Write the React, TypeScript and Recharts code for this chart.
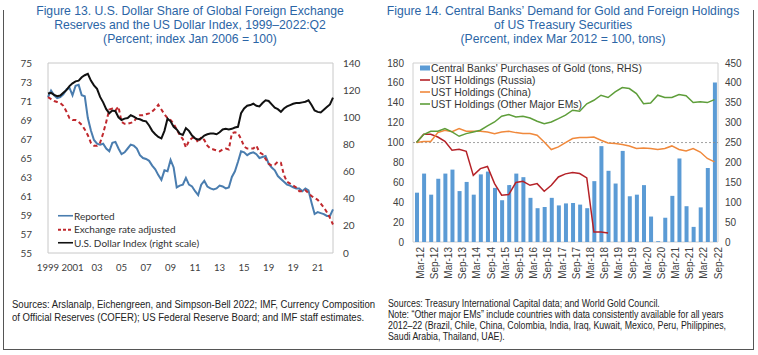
import React from "react";
import {
  Bar,
  ComposedChart,
  Line,
  LineChart,
  ReferenceArea,
  ReferenceLine,
  XAxis,
  YAxis,
} from "recharts";

// ---------- Figure 13 (quarterly, 1999Q1 - 2022Q2) ----------
const firstYear = 1999;
const quarterCount = 94;
const quarters: string[] = [];
for (let i = 0; i < quarterCount; i++) {
  quarters.push(`${firstYear + Math.floor(i / 4)}Q${(i % 4) + 1}`);
}

const reported = [
  71.4, 72.1, 71.6, 71.3, 71.4, 71.7, 72.2, 72.4,
  71.6, 72.6, 72.7, 71.6, 71.5, 69.2, 67.9, 66.9,
  66.5, 66.4, 66.5, 66.0, 65.7, 66.6, 66.7, 66.0,
  65.4, 65.6, 66.0, 66.4, 66.3, 66.0, 65.3, 65.0,
  64.9, 64.7, 64.2, 63.8, 63.2, 62.7, 63.7, 63.6,
  64.8, 64.0, 61.9, 62.1, 62.2, 62.9, 62.2, 62.0,
  61.5, 61.1, 62.2, 62.6, 62.0, 61.8, 61.7, 61.8,
  62.1, 62.0, 61.8, 61.9, 63.0, 63.6, 64.6, 65.7,
  65.6, 65.3, 65.5, 65.6, 65.4, 65.0, 65.1, 65.2,
  64.4, 64.0, 63.7, 63.1, 62.8, 62.5, 62.2, 62.1,
  61.9, 61.8, 61.8, 61.5, 61.8, 61.6, 60.3, 59.1,
  59.3, 59.2, 59.1, 58.9, 58.9, 59.6,
];

const fxAdjusted = [
  71.4, 71.2, 71.0, 70.9, 70.8, 70.5, 69.9, 69.2,
  69.0, 69.0, 68.8, 68.5, 68.0, 67.4, 66.6, 66.3,
  66.3, 66.6, 67.6, 68.8, 70.1, 70.2, 70.0, 70.4,
  68.8, 68.6, 68.6, 68.7, 68.8, 69.3, 69.5, 69.5,
  69.6, 69.7, 69.9, 70.2, 70.6, 70.1, 69.6, 69.2,
  69.0, 68.6, 68.0, 67.4, 67.0, 66.1, 66.8, 67.1,
  67.2, 66.6, 67.2, 66.9, 66.3, 66.0, 65.9, 65.8,
  65.7, 65.9, 66.0, 65.9, 67.6, 67.7, 67.6, 67.0,
  66.2, 66.0, 66.0, 66.0, 66.3, 65.6, 65.4, 64.9,
  64.4, 64.2, 64.3, 64.6, 64.5, 63.2, 62.5, 62.3,
  62.1, 61.9, 61.5, 61.5, 61.6, 61.3, 61.0, 60.8,
  60.6, 60.2, 59.8, 59.3, 58.7, 58.0,
];

const dollarIndex = [
  117.5, 118, 116.5, 115.5, 116, 118, 120, 123,
  125, 126.5, 127, 129.5, 131, 132, 127, 123.5,
  121, 115, 111, 106, 103, 105, 104.5, 100,
  98, 99, 99.5, 101.5, 100.5, 99, 98.5, 97.5,
  97, 94, 90, 87.5, 85.5, 84.5, 90, 99,
  97, 93, 91, 88, 87, 92, 90, 86.5,
  84.5, 83.5, 84.5, 86.5, 87.5, 88, 88, 87.5,
  89, 91, 91.5, 91, 91.5, 92.5, 93, 103,
  106.5, 108.5, 109, 110, 108.5, 108, 110.5, 112.5,
  112, 109.5, 107, 106, 104, 106.5, 108, 109,
  110, 110.5, 110.5, 111, 111.5, 112.5, 109, 105,
  104, 103.5, 105.5, 107.5, 109.5, 114.5,
];

// one label every two years (the original prints "19" twice)
const leftTickLabels = ["1999", "2001", "03", "05", "07", "09", "11", "13", "15", "19", "19", "21"];
const leftTicks = leftTickLabels.map((_, i) => quarters[i * 8]);
const leftTickText: Record<string, string> = {};
leftTicks.forEach((q, i) => (leftTickText[q] = leftTickLabels[i]));

const shareTicks = [55, 57, 59, 61, 63, 65, 67, 69, 71, 73, 75];
const indexTicks = [0, 20, 40, 60, 80, 100, 120, 140];

const fig13Data = quarters.map((q, i) => ({
  q,
  reported: reported[i],
  adjusted: fxAdjusted[i],
  dxy: dollarIndex[i],
}));

// ---------- Figure 14 (quarterly, Mar-12 - Sep-22) ----------
const periods = [
  "Mar-12", "Jun-12", "Sep-12", "Dec-12", "Mar-13", "Jun-13", "Sep-13", "Dec-13",
  "Mar-14", "Jun-14", "Sep-14", "Dec-14", "Mar-15", "Jun-15", "Sep-15", "Dec-15",
  "Mar-16", "Jun-16", "Sep-16", "Dec-16", "Mar-17", "Jun-17", "Sep-17", "Dec-17",
  "Mar-18", "Jun-18", "Sep-18", "Dec-18", "Mar-19", "Jun-19", "Sep-19", "Dec-19",
  "Mar-20", "Jun-20", "Sep-20", "Dec-20", "Mar-21", "Jun-21", "Sep-21", "Dec-21",
  "Mar-22", "Jun-22", "Sep-22",
];

const goldTons = [
  124, 172, 119, 159, 172, 182, 128, 151, 119, 170,
  177, 136, 105, 143, 172, 163, 111, 85, 88, 111,
  92, 97, 98, 94, 85, 153, 241, 179, 147, 229,
  115, 119, 143, 64, 2, 61, 116, 210, 90, 38,
  87, 186, 401,
];

const ustRussia: (number | null)[] = [
  100, 108.3, 108.3, 105.6, 101.3, 92.2, 93.2, 91.2, 67, 73.8,
  76, 58.7, 47, 47.7, 59.8, 61, 57, 58.7, 51, 57,
  65.4, 68.5, 69.8, 68.8, 64.4, 10, 10, 9, null, null,
  null, null, null, null, null, null, null, null, null, null,
  null, null, null,
];

const ustChina = [
  100, 101, 101, 110, 112.4, 111, 114, 111.4, 111.4, 111.4,
  110.7, 109, 110.7, 111.4, 110, 109, 109, 107.3, 100.6, 93,
  95.6, 100, 104, 105, 105, 105.6, 102.3, 99.6, 99, 98,
  96.6, 94, 94.6, 94, 93, 94, 96.6, 93, 91.5, 94,
  90.5, 84, 80.5,
];

const ustOtherEMs = [
  100, 108, 111.4, 111.4, 114, 110.7, 106.3, 109, 110.7, 112.4,
  116.7, 120.7, 126.5, 128.2, 125.8, 126.5, 124.7, 121.4, 119, 120.7,
  124, 127.5, 132.5, 131.5, 139, 142.5, 147.6, 145.3, 151, 155.3,
  154.3, 149.3, 139, 139.8, 147.6, 145.3, 145.3, 148.3, 147, 140.2,
  141, 140.2, 143.2,
];

const holdingsTicks = [0, 20, 40, 60, 80, 100, 120, 140, 160, 180];
const tonsTicks = [0, 50, 100, 150, 200, 250, 300, 350, 400, 450];

const fig14Data = periods.map((q, i) => ({
  q,
  gold: goldTons[i],
  russia: ustRussia[i],
  china: ustChina[i],
  others: ustOtherEMs[i],
}));

// ---------- styling ----------
const BLUE_TITLE = "#2B65A6";
const ARIAL = "'Liberation Sans', Arial, sans-serif";
const CALIBRI = "Lato, 'Open Sans', sans-serif";

type KeyItem = { label: string; color: string; kind: "line" | "dash" | "box" };

function KeyList({
  items, left, top, row, font, size, swatch,
}: {
  items: KeyItem[]; left: number; top: number; row: number; font: string; size: number; swatch: number;
}) {
  return (
    <div style={{ position: "absolute", left, top, fontFamily: font, fontSize: size, color: "#333" }}>
      {items.map((it) => (
        <div key={it.label} style={{ display: "flex", alignItems: "center", height: row, whiteSpace: "nowrap" }}>
          <svg width={swatch + 1} height={row} style={{ display: "block" }}>
            {it.kind === "box" ? (
              <rect x={0} y={row / 2 - 2.5} width={swatch} height={5} fill={it.color} />
            ) : (
              <line
                x1={0}
                x2={swatch}
                y1={row / 2}
                y2={row / 2}
                stroke={it.color}
                strokeWidth={it.kind === "dash" ? 1.8 : 1.6}
                strokeDasharray={it.kind === "dash" ? "3 2" : undefined}
              />
            )}
          </svg>
          <span>{it.label}</span>
        </div>
      ))}
    </div>
  );
}

const titleStyle: React.CSSProperties = {
  position: "absolute",
  top: 4,
  width: 380,
  textAlign: "center",
  fontFamily: ARIAL,
  fontSize: 12.2,
  lineHeight: "14px",
  color: BLUE_TITLE,
  whiteSpace: "nowrap",
};

const noteStyle: React.CSSProperties = {
  position: "absolute",
  top: 298,
  fontFamily: ARIAL,
  fontSize: 10,
  color: "#222",
  whiteSpace: "nowrap",
  transformOrigin: "0 0",
};

export default function App() {
  const leftTick = { fontSize: 10, fill: "#404040", fontFamily: CALIBRI };
  const bottomTick = { fontSize: 9.6, fill: "#404040", fontFamily: CALIBRI };
  const rightTick = { fontSize: 10, fill: "#404040", fontFamily: ARIAL };
  return (
    <div style={{ position: "absolute", left: 0, top: 0, width: 758, height: 355, background: "#fff", overflow: "hidden" }}>
      {/* outer box */}
      <div
        style={{
          position: "absolute", left: 3, top: 10, width: 749, height: 339,
          borderLeft: "1.5px solid #555", borderRight: "1.5px solid #555", borderBottom: "1.5px solid #555",
        }}
      />

      <div style={{ ...titleStyle, left: 0 }}>
        Figure 13. U.S. Dollar Share of Global Foreign Exchange<br />
        Reserves and the US Dollar Index, 1999–2022:Q2<br />
        (Percent; index Jan 2006 = 100)
      </div>
      <div style={{ ...titleStyle, left: 374, width: 378 }}>
        Figure 14. Central Banks’ Demand for Gold and Foreign Holdings<br />
        of US Treasury Securities<br />
        (Percent, index Mar 2012 = 100, tons)
      </div>

      <div style={{ position: "absolute", left: 0, top: 0 }}>
        <LineChart width={380} height={290} data={fig13Data} margin={{ top: 63, right: 7, bottom: 17, left: 8 }}>
          <XAxis
            dataKey="q"
            ticks={leftTicks}
            interval={0}
            tickFormatter={(v) => leftTickText[v] ?? ""}
            tickLine={false}
            axisLine={false}
            tickSize={0}
            tickMargin={11}
            height={20}
            tick={bottomTick}
          />
          <YAxis
            yAxisId="share"
            domain={[55, 75]}
            ticks={shareTicks}
            interval={0}
            width={40}
            tickLine={false}
            axisLine={false}
            tickSize={0}
            tickMargin={16}
            tick={leftTick}
          />
          <YAxis
            yAxisId="index"
            orientation="right"
            domain={[0, 140]}
            ticks={indexTicks}
            interval={0}
            width={40}
            tickLine={false}
            axisLine={false}
            tickSize={0}
            tickMargin={10}
            tick={leftTick}
          />
          <ReferenceArea yAxisId="share" y1={55} y2={75} fill="none" stroke="#c8c8c8" strokeWidth={1} />
          <Line yAxisId="share" dataKey="reported" stroke="#4A7DAF" strokeWidth={2} dot={false} isAnimationActive={false} />
          <Line
            yAxisId="share"
            dataKey="adjusted"
            stroke="#C0282D"
            strokeWidth={2}
            strokeDasharray="4 3"
            dot={false}
            isAnimationActive={false}
          />
          <Line yAxisId="index" dataKey="dxy" stroke="#111" strokeWidth={2} dot={false} isAnimationActive={false} />
        </LineChart>
      </div>

      <KeyList
        left={58}
        top={209}
        row={13.5}
        font={CALIBRI}
        size={10}
        swatch={15}
        items={[
          { label: "Reported", color: "#4A7DAF", kind: "line" },
          { label: "Exchange rate adjusted", color: "#C0282D", kind: "dash" },
          { label: "U.S. Dollar Index (right scale)", color: "#111", kind: "line" },
        ]}
      />

      <div style={{ position: "absolute", left: 380, top: 0 }}>
        <ComposedChart width={378} height={290} data={fig14Data} margin={{ top: 63, right: 10, bottom: 6, left: 3 }}>
          <XAxis
            dataKey="q"
            interval={1}
            angle={-90}
            textAnchor="end"
            tickLine={false}
            axisLine={false}
            tickSize={0}
            tickMargin={5}
            height={42}
            tick={{ ...rightTick, verticalAnchor: "middle" }}
          />
          <YAxis
            yAxisId="pct"
            domain={[0, 180]}
            ticks={holdingsTicks}
            interval={0}
            width={30}
            tickLine={false}
            axisLine={false}
            tickSize={0}
            tickMargin={9}
            tick={rightTick}
          />
          <YAxis
            yAxisId="tons"
            orientation="right"
            domain={[0, 450]}
            ticks={tonsTicks}
            interval={0}
            width={30}
            tickLine={false}
            axisLine={false}
            tickSize={0}
            tickMargin={7}
            tick={rightTick}
          />
          <ReferenceArea yAxisId="pct" y1={0} y2={180} fill="none" stroke="#d0d0d0" strokeWidth={1} />
          <Bar yAxisId="tons" dataKey="gold" fill="#5B9BD5" barSize={4} isAnimationActive={false} />
          <ReferenceLine yAxisId="pct" y={100} stroke="#8a8a8a" strokeWidth={0.8} strokeDasharray="2 2" />
          <Line yAxisId="pct" dataKey="russia" stroke="#B52228" strokeWidth={1.5} dot={false} isAnimationActive={false} />
          <Line yAxisId="pct" dataKey="china" stroke="#F0893C" strokeWidth={1.5} dot={false} isAnimationActive={false} />
          <Line yAxisId="pct" dataKey="others" stroke="#5E9E3A" strokeWidth={1.5} dot={false} isAnimationActive={false} />
        </ComposedChart>
      </div>

      <KeyList
        left={420}
        top={62}
        row={12}
        font={ARIAL}
        size={10.3}
        swatch={10}
        items={[
          { label: "Central Banks' Purchases of Gold (tons, RHS)", color: "#5B9BD5", kind: "box" },
          { label: "UST Holdings (Russia)", color: "#B52228", kind: "line" },
          { label: "UST Holdings (China)", color: "#F0893C", kind: "line" },
          { label: "UST Holdings (Other Major EMs)", color: "#5E9E3A", kind: "line" },
        ]}
      />

      <div style={{ ...noteStyle, left: 12, lineHeight: "13px", transform: "scaleX(0.955)" }}>
        Sources: Arslanalp, Eichengreen, and Simpson-Bell 2022; IMF, Currency Composition<br />
        of Official Reserves (COFER); US Federal Reserve Board; and IMF staff estimates.
      </div>
      <div style={{ ...noteStyle, left: 388, lineHeight: "11px", transform: "scaleX(0.88)" }}>
        Sources: Treasury International Capital data; and World Gold Council.<br />
        Note: “Other major EMs” include countries with data consistently available for all years<br />
        2012–22 (Brazil, Chile, China, Colombia, India, Iraq, Kuwait, Mexico, Peru, Philippines,<br />
        Saudi Arabia, Thailand, UAE).
      </div>
    </div>
  );
}
